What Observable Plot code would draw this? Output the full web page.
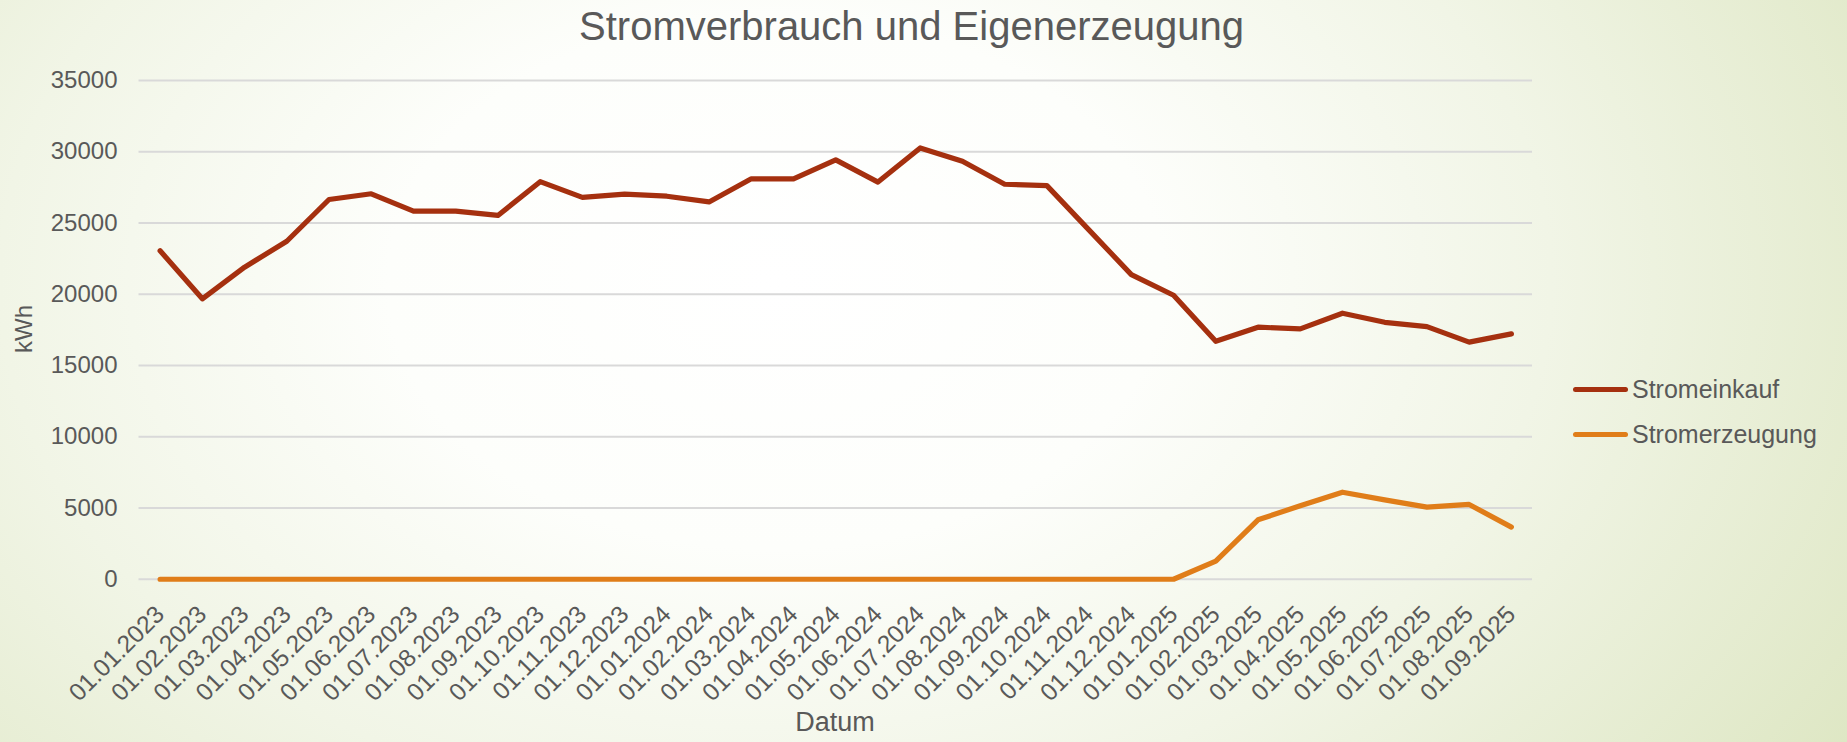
<!DOCTYPE html>
<html>
<head>
<meta charset="utf-8">
<script src="https://cdn.jsdelivr.net/npm/d3@7"></script>
<script src="https://cdn.jsdelivr.net/npm/@observablehq/plot@0.6"></script>
<style>
  html, body { margin: 0; padding: 0; }
  body {
    width: 1847px; height: 742px; overflow: hidden;
    background: radial-gradient(ellipse 70% 120% at 42% 38%, #ffffff 0%, #fdfefb 30%, #f1f5e6 60%, #dde6c2 100%);
    font-family: "Liberation Sans", Arial, sans-serif;
    color: #595959;
  }
  #wrap { position: relative; width: 1847px; height: 742px; }
  #title { position: absolute; left: 0; top: 6px; width: 1823px; text-align: center; font-size: 40px; line-height: 40px; color: #595959; }
  #ylab { position: absolute; left: 24px; top: 329px; font-size: 24px; line-height: 24px; transform: translate(-50%, -50%) rotate(-90deg); white-space: nowrap; }
  #xlab { position: absolute; left: 0; width: 1670px; top: 709px; text-align: center; font-size: 27px; line-height: 27px; }
  #legend { position: absolute; left: 1573px; top: 0; }
  .item { position: absolute; left: 0; display: flex; align-items: center; white-space: nowrap; font-size: 25px; line-height: 25px; }
  .sw { width: 55px; height: 5px; border-radius: 3px; margin-right: 4px; }
  svg { position: absolute; left: 0; top: 0; }
</style>
</head>
<body>
<div id="wrap">
  <div id="chart"></div>
  <div id="title"></div>
  <div id="ylab"></div>
  <div id="xlab"></div>
  <div id="legend"></div>
</div>
<script>
const title = "Stromverbrauch und Eigenerzeugung";
const yLabel = "kWh";
const xLabel = "Datum";
const seriesNames = ["Stromeinkauf", "Stromerzeugung"];
const seriesColors = ["#a5300f", "#e07d19"];

const months = [
  "01.01.2023","01.02.2023","01.03.2023","01.04.2023","01.05.2023","01.06.2023",
  "01.07.2023","01.08.2023","01.09.2023","01.10.2023","01.11.2023","01.12.2023",
  "01.01.2024","01.02.2024","01.03.2024","01.04.2024","01.05.2024","01.06.2024",
  "01.07.2024","01.08.2024","01.09.2024","01.10.2024","01.11.2024","01.12.2024",
  "01.01.2025","01.02.2025","01.03.2025","01.04.2025","01.05.2025","01.06.2025",
  "01.07.2025","01.08.2025","01.09.2025"
];
const stromeinkauf = [
  23050, 19680, 21900, 23720, 26650, 27050,
  25830, 25830, 25530, 27900, 26800, 27020,
  26880, 26480, 28100, 28100, 29430, 27870,
  30270, 29330, 27720, 27620, 24500, 21380,
  19930, 16700, 17690, 17570, 18670, 18030,
  17730, 16640, 17220
];
const stromerzeugung = [
  0, 0, 0, 0, 0, 0,
  0, 0, 0, 0, 0, 0,
  0, 0, 0, 0, 0, 0,
  0, 0, 0, 0, 0, 0,
  0, 1270, 4170, 5160, 6110, 5570,
  5060, 5250, 3660
];
const yTicks = [0, 5000, 10000, 15000, 20000, 25000, 30000, 35000];

const rows = months.map((m, i) => ({date: m, einkauf: stromeinkauf[i], erzeugung: stromerzeugung[i]}));

const W = 1847, H = 742;
const chart = Plot.plot({
  width: W,
  height: H,
  marginTop: 80,
  marginBottom: 163.25,
  marginLeft: 138.5,
  marginRight: 315,
  style: {background: "transparent", fontFamily: "Liberation Sans, Arial, sans-serif", color: "#595959"},
  x: {type: "point", domain: months, padding: 0.5, round: false, axis: null},
  y: {domain: [0, 35000], axis: null},
  marks: [
    Plot.gridY(yTicks, {stroke: "#d9d9d9", strokeOpacity: 1, strokeWidth: 1.8}),
    Plot.axisY(yTicks, {tickSize: 0, tickPadding: 21.5, fontSize: 24, fill: "#595959", label: null, tickFormat: d => String(d)}),
    Plot.text(months, {x: d => d, text: d => d, frameAnchor: "bottom", rotate: -45, textAnchor: "end", lineAnchor: "middle", dy: 31, fontSize: 24.5, fill: "#595959"}),
    Plot.line(rows, {x: "date", y: "einkauf", stroke: seriesColors[0], strokeWidth: 5.2, strokeLinecap: "round", strokeLinejoin: "round"}),
    Plot.line(rows, {x: "date", y: "erzeugung", stroke: seriesColors[1], strokeWidth: 5.2, strokeLinecap: "round", strokeLinejoin: "round"})
  ]
});
document.getElementById("chart").appendChild(chart);

document.getElementById("title").textContent = title;
document.getElementById("ylab").textContent = yLabel;
document.getElementById("xlab").textContent = xLabel;
const legend = document.getElementById("legend");
const legendY = [390, 435];
seriesNames.forEach((name, i) => {
  const item = document.createElement("div");
  item.className = "item";
  item.style.top = (legendY[i] - 13) + "px";
  const sw = document.createElement("div");
  sw.className = "sw";
  sw.style.background = seriesColors[i];
  const t = document.createElement("span");
  t.textContent = name;
  item.appendChild(sw);
  item.appendChild(t);
  legend.appendChild(item);
});
</script>
</body>
</html>
